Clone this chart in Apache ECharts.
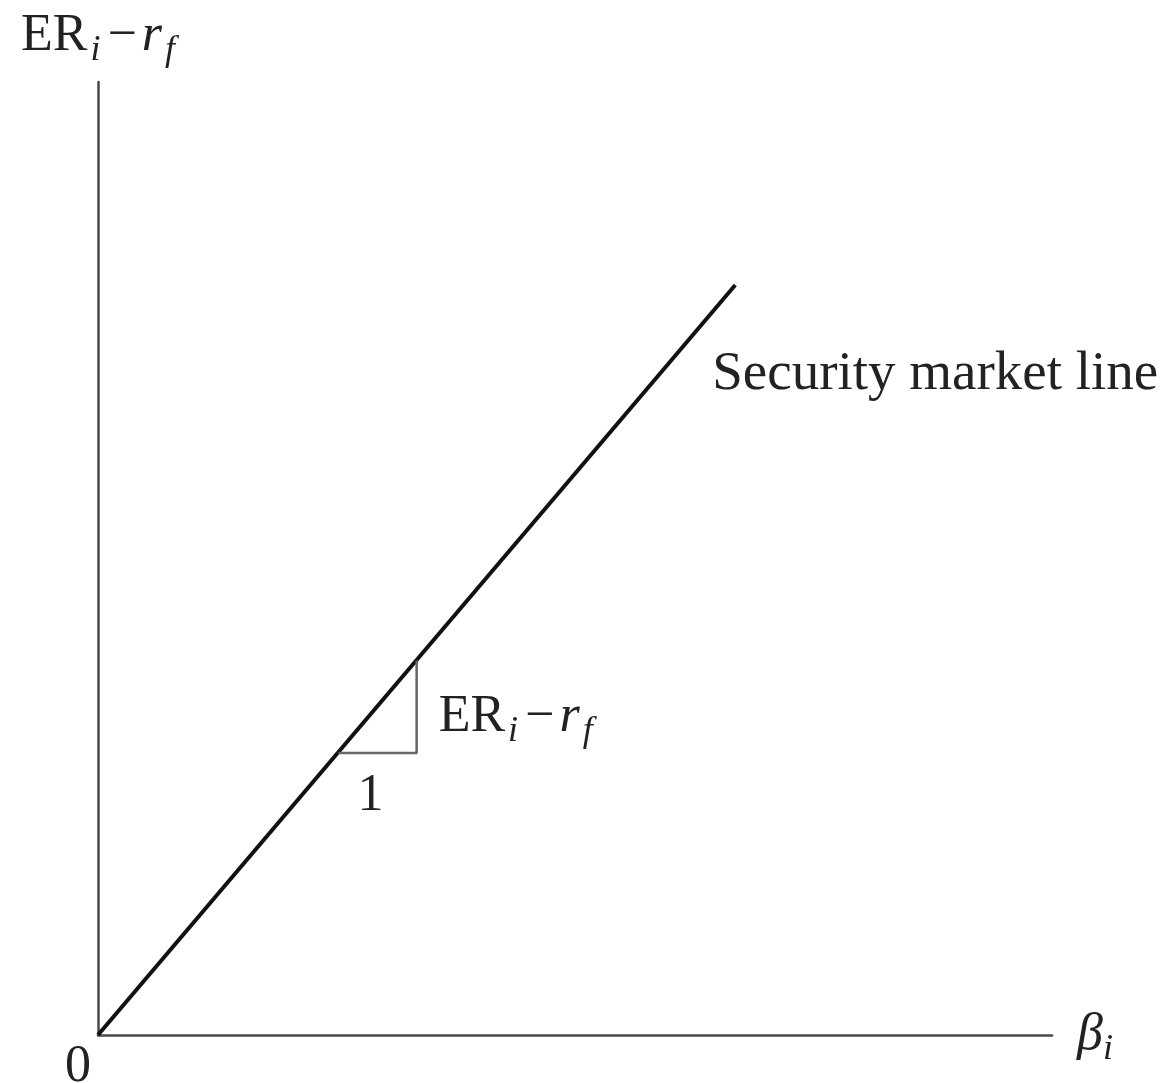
<!DOCTYPE html>
<html>
<head>
<meta charset="utf-8">
<script src="https://cdn.jsdelivr.net/npm/echarts@6/dist/echarts.min.js"></script>
<style>
  html, body { margin: 0; padding: 0; background: #fff; }
  #container { width: 1174px; height: 1083px; }
</style>
</head>
<body>
<div id="container"></div>
<script>
// security market line, from origin
var smlBeta = [0, 6.68];
var smlExcess = [0, 7.87];
// slope triangle under the line
var triBeta = [2.52, 3.34, 3.34];
var triExcess = [2.96, 2.96, 3.93];
var xTickLabels = ['0'];

var FONT = 'Liberation Serif';
var AXIS_COLOR = '#4a4a4a';

function pairs(xs, ys) {
  var out = [];
  for (var i = 0; i < xs.length; i++) out.push([xs[i], ys[i]]);
  return out;
}

// rich styles for "ER_i - r_f"
var erRich = {
  m: { fontFamily: FONT, fontSize: 52, lineHeight: 54, color: '#222' },
  mn: { fontFamily: FONT, fontSize: 52, lineHeight: 54, color: '#222', padding: [0, 5, 0, 7] },
  mi: { fontFamily: FONT, fontSize: 52, lineHeight: 54, fontStyle: 'italic', color: '#222' },
  s: { fontFamily: FONT, fontSize: 36, lineHeight: 36, fontStyle: 'italic', color: '#222', padding: [30, 0, 0, 3] }
};
var erText = '{m|ER}{s|i}{mn|\u2212}{mi|r}{s|f}';

var dom = document.getElementById('container');
var myChart = echarts.init(dom);
var option = {
  backgroundColor: '#fff',
  animation: false,
  grid: { left: 98, right: 122, top: 82, bottom: 48, outerBoundsMode: 'none', containLabel: false },
  xAxis: {
    type: 'value',
    min: 0,
    max: 10,
    splitLine: { show: false },
    axisTick: { show: false },
    axisLine: { lineStyle: { color: AXIS_COLOR, width: 2.5 } },
    axisLabel: {
      margin: 6,
      fontFamily: FONT,
      fontSize: 52,
      color: '#222',
      padding: [0, 40, 0, 0],
      formatter: function (v) { return v === 0 ? xTickLabels[0] : ''; }
    },
    name: '{b|\u03b2}{s|i}',
    nameLocation: 'end',
    nameGap: 25,
    nameTextStyle: {
      rich: {
        b: { fontFamily: FONT, fontSize: 52, lineHeight: 54, fontStyle: 'italic', color: '#222' },
        s: { fontFamily: FONT, fontSize: 36, lineHeight: 36, fontStyle: 'italic', color: '#222', padding: [30, 0, 0, 0] }
      }
    }
  },
  yAxis: {
    type: 'value',
    min: 0,
    max: 10,
    splitLine: { show: false },
    axisTick: { show: false },
    axisLabel: { show: false },
    axisLine: { lineStyle: { color: AXIS_COLOR, width: 2.5 } },
    name: erText,
    nameLocation: 'end',
    nameGap: 19,
    nameTextStyle: { rich: erRich }
  },
  series: [
    {
      name: 'Security market line',
      type: 'line',
      data: pairs(smlBeta, smlExcess),
      symbol: 'none',
      lineStyle: { color: '#111', width: 4 }
    },
    {
      name: 'slope',
      type: 'line',
      data: pairs(triBeta, triExcess),
      symbol: 'none',
      lineStyle: { color: '#666', width: 2.5 }
    }
  ]
};
myChart.setOption(option);

// annotation text placed from data coordinates
var endPt = myChart.convertToPixel({ gridIndex: 0 }, [smlBeta[1], smlExcess[1]]);
var cornerPt = myChart.convertToPixel({ gridIndex: 0 }, [triBeta[1], triExcess[1]]);
var midPt = myChart.convertToPixel({ gridIndex: 0 }, [(triBeta[0] + triBeta[1]) / 2, triExcess[0]]);

myChart.setOption({
  graphic: [
    {
      type: 'text',
      x: endPt[0] - 23,
      y: endPt[1] + 90,
      style: { text: 'Security market line', font: '55px "Liberation Serif"', fill: '#222', align: 'left', verticalAlign: 'middle' }
    },
    {
      type: 'text',
      x: cornerPt[0] + 22,
      y: cornerPt[1] - 36,
      style: { text: erText, rich: erRich, align: 'left', verticalAlign: 'middle', fill: '#222' }
    },
    {
      type: 'text',
      x: midPt[0] - 7,
      y: midPt[1] + 43,
      style: { text: '1', font: '52px "Liberation Serif"', fill: '#222', align: 'center', verticalAlign: 'middle' }
    }
  ]
});
</script>
</body>
</html>
